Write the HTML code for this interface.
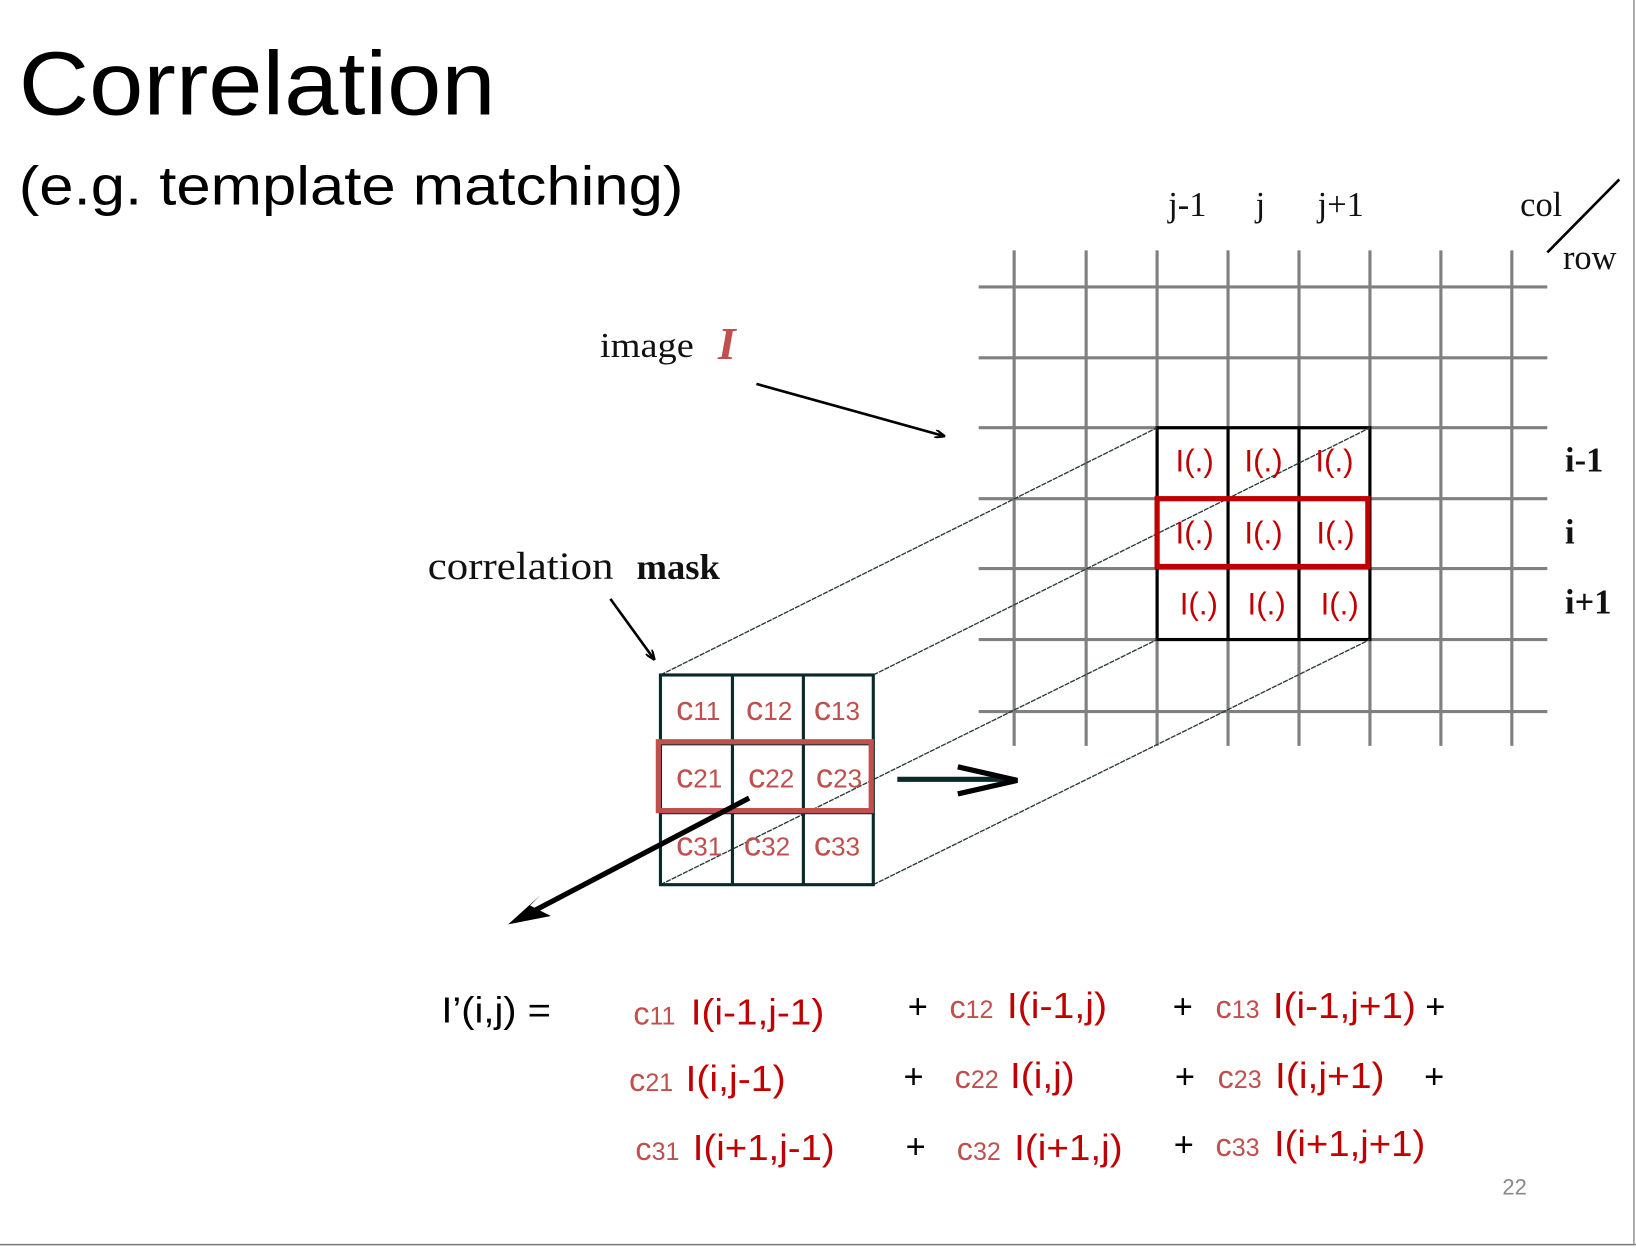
<!DOCTYPE html>
<html><head><meta charset="utf-8"><style>html,body{margin:0;padding:0;background:#fff;overflow:hidden}svg{display:block}</style></head>
<body>
<svg width="1636" height="1254" viewBox="0 0 1568 1202" preserveAspectRatio="none" xmlns="http://www.w3.org/2000/svg">
<defs>
<marker id="ah" markerWidth="10" markerHeight="8" refX="9" refY="4" orient="auto" markerUnits="userSpaceOnUse"><path d="M0,0 L10,4 L0,8" fill="none" stroke="#000" stroke-width="2"/></marker>
</defs>
<g font-family="Liberation Sans, sans-serif">
<text x="18" y="110" font-size="86" textLength="457" lengthAdjust="spacingAndGlyphs">Correlation</text>
<text x="18" y="196" font-size="52" textLength="637" lengthAdjust="spacingAndGlyphs">(e.g. template matching)</text>
</g>
<g stroke="#808080" stroke-width="3">
<line x1="972" y1="240" x2="972" y2="715"/><line x1="1041" y1="240" x2="1041" y2="715"/>
<line x1="1109" y1="240" x2="1109" y2="715"/><line x1="1177" y1="240" x2="1177" y2="715"/>
<line x1="1245" y1="240" x2="1245" y2="715"/><line x1="1313" y1="240" x2="1313" y2="715"/>
<line x1="1381" y1="240" x2="1381" y2="715"/><line x1="1449" y1="240" x2="1449" y2="715"/>
<line x1="938" y1="275" x2="1483" y2="275"/><line x1="938" y1="343" x2="1483" y2="343"/>
<line x1="938" y1="410" x2="1483" y2="410"/><line x1="938" y1="478" x2="1483" y2="478"/>
<line x1="938" y1="545" x2="1483" y2="545"/><line x1="938" y1="613" x2="1483" y2="613"/>
<line x1="938" y1="682" x2="1483" y2="682"/>
</g>
<g stroke="#000" stroke-width="3" fill="none">
<rect x="1109" y="410" width="204" height="203"/>
<line x1="1177" y1="410" x2="1177" y2="613"/><line x1="1245" y1="410" x2="1245" y2="613"/>
</g>
<g stroke="#2a3a3a" stroke-width="1.3" stroke-dasharray="5,1">
<line x1="633" y1="647" x2="1109" y2="410"/><line x1="837" y1="647" x2="1313" y2="410"/>
<line x1="633" y1="848" x2="1109" y2="613"/><line x1="837" y1="848" x2="1313" y2="613"/>
</g>
<rect x="1109" y="478" width="202" height="65" fill="none" stroke="#c00000" stroke-width="5"/>
<g font-family="Liberation Sans, sans-serif" font-size="30" fill="#c00000" text-anchor="middle">
<text x="1145" y="452">I(.)</text><text x="1211" y="452">I(.)</text><text x="1279" y="452">I(.)</text>
<text x="1145" y="521">I(.)</text><text x="1211" y="521">I(.)</text><text x="1280" y="521">I(.)</text>
<text x="1149" y="589">I(.)</text><text x="1214" y="589">I(.)</text><text x="1284" y="589">I(.)</text>
</g>
<g font-family="Liberation Serif, serif" font-size="33" fill="#111">
<text x="1138" y="207" text-anchor="middle">j-1</text><text x="1208" y="207" text-anchor="middle">j</text><text x="1285" y="207" text-anchor="middle">j+1</text>
<text x="1457" y="207">col</text><text x="1498" y="258">row</text>
<text x="1500" y="452" font-weight="bold">i-1</text><text x="1500" y="521" font-weight="bold">i</text><text x="1500" y="588" font-weight="bold">i+1</text>
<text x="575" y="342" font-size="33" textLength="90" lengthAdjust="spacingAndGlyphs">image</text>
<text x="688" y="344" font-size="44" font-style="italic" font-weight="bold" fill="#c0504d">I</text>
<text x="410" y="555" font-size="37" textLength="178" lengthAdjust="spacingAndGlyphs">correlation</text>
<text x="610" y="555" font-size="34" font-weight="bold" textLength="80" lengthAdjust="spacingAndGlyphs">mask</text>
</g>
<line x1="1483" y1="242" x2="1552" y2="172" stroke="#000" stroke-width="2.5"/>
<line x1="725" y1="368" x2="905" y2="418" stroke="#000" stroke-width="2.5" marker-end="url(#ah)"/>
<line x1="585" y1="574" x2="627" y2="632" stroke="#000" stroke-width="2.5" marker-end="url(#ah)"/>
<g stroke="#0a2a2a" stroke-width="3" fill="none">
<rect x="633" y="647" width="204" height="201"/>
<line x1="702" y1="647" x2="702" y2="848"/><line x1="770" y1="647" x2="770" y2="848"/>
<line x1="633" y1="713" x2="837" y2="713"/><line x1="633" y1="779" x2="837" y2="779"/>
</g>
<rect x="631" y="711" width="204" height="66" fill="none" stroke="#c0504d" stroke-width="5"/>
<g font-family="Liberation Sans, sans-serif" fill="#c0504d" font-size="33">
<text x="648" y="690">c<tspan font-size="25">11</tspan></text><text x="715" y="690">c<tspan font-size="25">12</tspan></text><text x="780" y="690">c<tspan font-size="25">13</tspan></text>
<text x="648" y="755">c<tspan font-size="25">21</tspan></text><text x="717" y="755">c<tspan font-size="25">22</tspan></text><text x="782" y="755">c<tspan font-size="25">23</tspan></text>
<text x="648" y="820">c<tspan font-size="25">31</tspan></text><text x="713" y="820">c<tspan font-size="25">32</tspan></text><text x="780" y="820">c<tspan font-size="25">33</tspan></text>
</g>
<line x1="860" y1="747" x2="965" y2="747" stroke="#0a2a2a" stroke-width="5"/>
<path d="M918,735 L975,748 L918,761" fill="none" stroke="#000" stroke-width="5"/>
<line x1="718" y1="765" x2="510" y2="874" stroke="#000" stroke-width="5"/>
<path d="M487,886 L518,858 L508,868 L528,878 Z" fill="#000"/>
<g font-family="Liberation Sans, sans-serif" font-size="35">
<text x="423" y="980" fill="#000" textLength="105" lengthAdjust="spacingAndGlyphs">I’(i,j) =</text>
<g fill="#000" font-size="33"><text x="870" y="976">+</text><text x="1124" y="976">+</text><text x="1366" y="976">+</text>
<text x="866" y="1043">+</text><text x="1126" y="1043">+</text><text x="1365" y="1043">+</text>
<text x="868" y="1110">+</text><text x="1125" y="1108">+</text></g>
<g fill="#c0504d" font-size="31">
<text x="607" y="982">c<tspan font-size="24">11</tspan></text><text x="910" y="976">c<tspan font-size="24">12</tspan></text><text x="1165" y="976">c<tspan font-size="24">13</tspan></text>
<text x="603" y="1046">c<tspan font-size="24">21</tspan></text><text x="915" y="1043">c<tspan font-size="24">22</tspan></text><text x="1167" y="1043">c<tspan font-size="24">23</tspan></text>
<text x="609" y="1112">c<tspan font-size="24">31</tspan></text><text x="917" y="1112">c<tspan font-size="24">32</tspan></text><text x="1165" y="1108">c<tspan font-size="24">33</tspan></text>
</g>
<g fill="#c00000" lengthAdjust="spacingAndGlyphs">
<text x="662" y="982" textLength="128" lengthAdjust="spacingAndGlyphs">I(i-1,j-1)</text><text x="965" y="976" textLength="96" lengthAdjust="spacingAndGlyphs">I(i-1,j)</text><text x="1220" y="976" textLength="137" lengthAdjust="spacingAndGlyphs">I(i-1,j+1)</text>
<text x="657" y="1046" textLength="96" lengthAdjust="spacingAndGlyphs">I(i,j-1)</text><text x="968" y="1043" textLength="62" lengthAdjust="spacingAndGlyphs">I(i,j)</text><text x="1222" y="1043" textLength="105" lengthAdjust="spacingAndGlyphs">I(i,j+1)</text>
<text x="664" y="1112" textLength="136" lengthAdjust="spacingAndGlyphs">I(i+1,j-1)</text><text x="972" y="1112" textLength="104" lengthAdjust="spacingAndGlyphs">I(i+1,j)</text><text x="1221" y="1108" textLength="145" lengthAdjust="spacingAndGlyphs">I(i+1,j+1)</text>
</g>
</g>
<text x="1440" y="1145" font-family="Liberation Sans, sans-serif" font-size="21" fill="#888">22</text>
<line x1="0" y1="1193" x2="1568" y2="1193" stroke="#777" stroke-width="1.5"/>
<line x1="1566" y1="0" x2="1566" y2="1193" stroke="#999" stroke-width="1.5"/>
</svg>
</body></html>
